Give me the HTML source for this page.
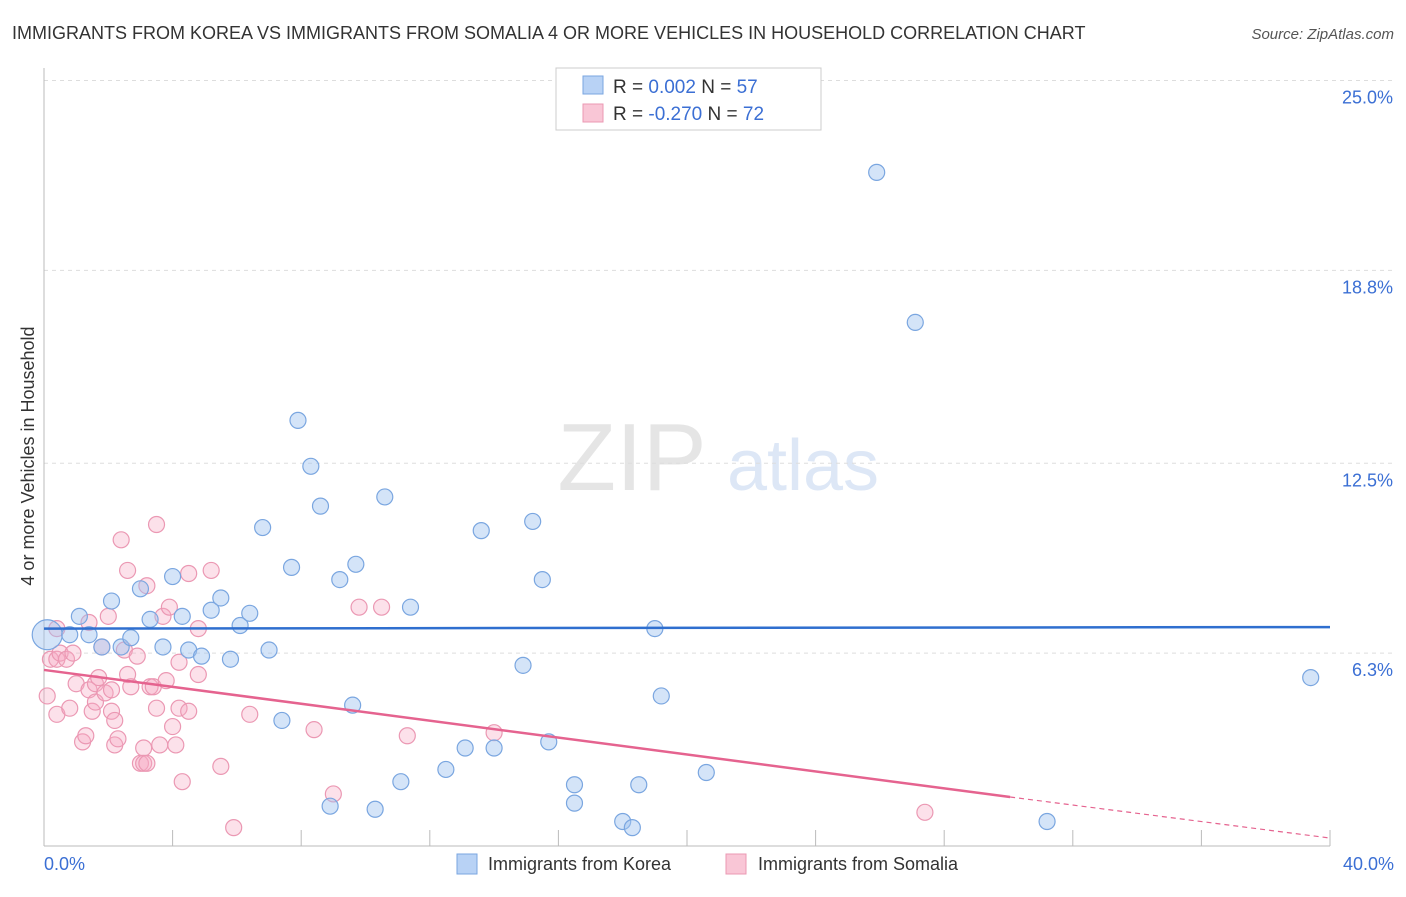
<!DOCTYPE html>
<html><head><meta charset="utf-8"><style>
body{margin:0;background:#fff;font-family:"Liberation Sans",sans-serif;}
svg text{font-family:"Liberation Sans",sans-serif;}
</style></head><body>
<svg id="chart" width="1406" height="892" xmlns="http://www.w3.org/2000/svg">
<text x="12" y="39" font-size="18" fill="#333">IMMIGRANTS FROM KOREA VS IMMIGRANTS FROM SOMALIA 4 OR MORE VEHICLES IN HOUSEHOLD CORRELATION CHART</text>
<text x="1394" y="39" font-size="15" fill="#555" text-anchor="end" font-style="italic">Source: ZipAtlas.com</text>
<g opacity="0.5">
<text x="632" y="490" font-size="96" fill="#ccc" text-anchor="middle" font-family="Liberation Serif">ZIP</text>
<text x="803" y="490" font-size="72" fill="#bcd0ee" text-anchor="middle">atlas</text>
</g>
<text transform="translate(34,456) rotate(-90)" font-size="18" fill="#333" text-anchor="middle">4 or more Vehicles in Household</text>
<g id="grid"></g><g id="axes"></g><g id="points"></g><g id="trends"></g>
<g>
<rect x="556" y="68" width="265" height="62" fill="#fff" stroke="#ccc"/>
<rect x="583" y="76" width="20" height="18" fill="#b8d2f5" stroke="#7aa6e0"/>
<rect x="583" y="104" width="20" height="18" fill="#f9c6d6" stroke="#eb98b3"/>
<text x="613" y="93" font-size="19" fill="#333">R = <tspan fill="#3b6fd4">  0.002</tspan>    N = <tspan fill="#3b6fd4">57</tspan></text>
<text x="613" y="120" font-size="19" fill="#333">R = <tspan fill="#3b6fd4">-0.270</tspan>    N = <tspan fill="#3b6fd4">72</tspan></text>
</g>
<g>
<rect x="457" y="854" width="20" height="20" fill="#b8d2f5" stroke="#7aa6e0"/>
<text x="488" y="870" font-size="18" fill="#333">Immigrants from Korea</text>
<rect x="726" y="854" width="20" height="20" fill="#f9c6d6" stroke="#eb98b3"/>
<text x="758" y="870" font-size="18" fill="#333">Immigrants from Somalia</text>
</g>
</svg>
<script>
const yTicks=[25.0,18.8,12.5,6.3];
const yTickLabels=["25.0%","18.8%","12.5%","6.3%"];
const xTickLabels=["0.0%","40.0%"];
const koreaX=[0.1,0.8,1.1,1.4,1.8,2.1,2.4,2.7,3.0,3.3,3.7,4.0,4.3,4.5,4.9,5.2,5.5,5.8,6.1,6.4,6.8,7.0,7.4,7.7,7.9,8.3,8.6,8.9,9.2,9.6,9.7,10.3,10.6,11.1,11.4,12.5,13.1,13.6,14.0,14.9,15.2,15.5,15.7,16.5,16.5,18.0,18.3,18.5,19.0,19.2,20.6,25.9,27.1,31.2,39.4,16.9];
const koreaY=[6.9,6.9,7.5,6.9,6.5,8.0,6.5,6.8,8.4,7.4,6.5,8.8,7.5,6.4,6.2,7.7,8.1,6.1,7.2,7.6,10.4,6.4,4.1,9.1,13.9,12.4,11.1,1.3,8.7,4.6,9.2,1.2,11.4,2.1,7.8,2.5,3.2,10.3,3.2,5.9,10.6,8.7,3.4,2.0,1.4,0.8,0.6,2.0,7.1,4.9,2.4,22.0,17.1,0.8,5.5,24.8];
const somaliaX=[0.1,0.2,0.4,0.4,0.5,0.7,0.8,0.9,1.0,1.2,1.3,1.4,1.4,1.5,1.6,1.6,1.7,1.8,1.9,2.0,2.1,2.1,2.2,2.2,2.3,2.4,2.5,2.6,2.6,2.7,2.9,3.0,3.1,3.1,3.2,3.2,3.3,3.4,3.5,3.5,3.6,3.7,3.8,3.9,4.0,4.1,4.2,4.2,4.3,4.5,4.5,4.8,4.8,5.2,5.5,5.9,6.4,8.4,9.0,9.8,10.5,11.3,14.0,27.4,0.4];
const somaliaY=[4.9,6.1,6.1,4.3,6.3,6.1,4.5,6.3,5.3,3.4,3.6,5.1,7.3,4.4,5.3,4.7,5.5,6.5,5.0,7.5,5.1,4.4,3.3,4.1,3.5,10.0,6.4,5.6,9.0,5.2,6.2,2.7,3.2,2.7,2.7,8.5,5.2,5.2,4.5,10.5,3.3,7.5,5.4,7.8,3.9,3.3,4.5,6.0,2.1,4.4,8.9,7.1,5.6,9.0,2.6,0.6,4.3,3.8,1.7,7.8,7.8,3.6,3.7,1.1,7.1];
const NS="http://www.w3.org/2000/svg";
const X0=44,X1=1330,Y0=846,PX_PER=30.62;
const xs=v=>X0+v/40*(X1-X0);
const ys=v=>Y0-v*PX_PER;
function mk(t,a,p){const e=document.createElementNS(NS,t);for(const k in a)e.setAttribute(k,a[k]);p.appendChild(e);return e;}
const grid=document.getElementById('grid');
yTicks.forEach((t,i)=>{
 const l=mk('line',{x1:X0,x2:1394,y1:ys(t),y2:ys(t),stroke:'#ddd','stroke-dasharray':'4,4'},grid);
 
 
 const tx=mk('text',{x:1393,y:ys(t)+23,'font-size':18,fill:'#3b6fd4','text-anchor':'end'},grid);
 tx.textContent=yTickLabels[i];
 
 
});
const axes=document.getElementById('axes');
mk('line',{x1:X0,x2:X0,y1:68,y2:846,stroke:'#bbb'},axes);
mk('line',{x1:X0,x2:X1,y1:846,y2:846,stroke:'#bbb'},axes);
for(let i=0;i<=10;i++){const x=xs(i*4);const t=mk('line',{x1:x,x2:x,y1:830,y2:846,stroke:'#bbb'},axes);
 
 }
[[0,'start',44],[40,'end',1394]].forEach((d,i)=>{const t=mk('text',{x:d[2],y:870,'font-size':18,fill:'#3b6fd4','text-anchor':d[1]},axes);t.textContent=xTickLabels[i];
 
 });
const pts=document.getElementById('points');
somaliaX.forEach((x,i)=>{const c=mk('circle',{cx:xs(x),cy:ys(somaliaY[i]),r:8,fill:'rgba(246,170,196,0.35)',stroke:'#eb98b3','stroke-width':1.2},pts);
 
 });
koreaX.forEach((x,i)=>{const c=mk('circle',{cx:xs(x),cy:ys(koreaY[i]),r:i==0?15:8,fill:'rgba(160,196,240,0.45)',stroke:'#7aa6e0','stroke-width':1.2},pts);
 
 });
const tr=document.getElementById('trends');
const kt=mk('line',{x1:xs(0),y1:ys(7.1),x2:xs(40),y2:ys(7.15),stroke:'#2f6fcf','stroke-width':2.5},tr);


const st=mk('line',{x1:xs(0),y1:ys(5.75),x2:xs(30.05),y2:ys(1.6),stroke:'#e5638f','stroke-width':2.5},tr);


const sd=mk('line',{x1:xs(30.05),y1:ys(1.6),x2:xs(40),y2:ys(0.26),stroke:'#e5638f','stroke-width':1.2,'stroke-dasharray':'5,4'},tr);


</script>
</body></html>
